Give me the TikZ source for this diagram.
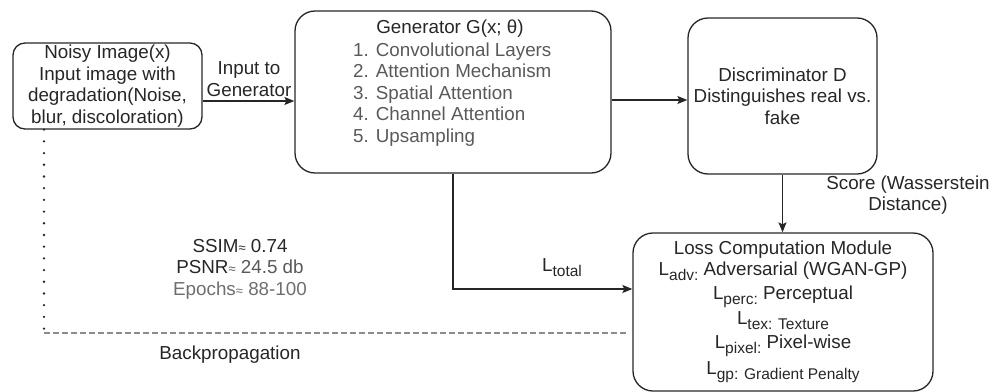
\documentclass[tikz,border=0pt]{standalone}
\usepackage{fontspec}
\setmainfont{Liberation Sans}
\usetikzlibrary{arrows.meta}

\definecolor{ink}{HTML}{262626}
\definecolor{softink}{HTML}{595959}
\definecolor{paleink}{HTML}{6E6E6E}
\definecolor{dashgray}{HTML}{8C8C8C}

% lowered, smaller text used for loss-term indices
\newcommand{\lsub}[1]{\raisebox{-5pt}{\fontsize{15.5}{16}\selectfont #1}}
% small "approximately" sign
\newcommand{\apx}{{\fontsize{13}{13}\selectfont ≈}}
% body font with fixed line pitch
\newcommand{\bodyfont}{\fontsize{18.8}{21.5}\selectfont\lineskiplimit=-50pt\relax}

\begin{document}
\begin{tikzpicture}[
  x=1pt, y=-1pt,
  font=\bodyfont,
  box/.style={draw=ink, line width=1.3pt, rounded corners=20pt, inner sep=0pt, text=ink},
  conn/.style={draw=ink, line width=1.3pt, -{Stealth[length=10pt, width=8pt, inset=2pt]}},
  lbl/.style={text=ink, inner sep=0pt, align=center}
]
\useasboundingbox (0,0) rectangle (992,391);

% --- blocks ---
\node[box, rounded corners=12pt, minimum width=189pt, minimum height=86pt, align=center]
  (noisy) at (107.5,86)
  {Noisy Image(x)\\Input image with\\degradation(Noise,\\blur, discoloration)};

\node[box, minimum width=316pt, minimum height=162pt] (gen) at (453,92) {};
\node[lbl] (gentitle) at (450,29) {Generator G(x; θ)};
\node[lbl, align=left, text=softink, anchor=north west] (genlist) at (353,42.5)
  {1. Convolutional Layers\\
   2. Attention Mechanism\\
   3. Spatial Attention\\
   4. Channel Attention\\
   5. Upsampling};

\node[box, minimum width=189pt, minimum height=156pt, align=center]
  (disc) at (782.5,96)
  {Discriminator D\\Distinguishes real vs.\\fake};

\node[box, minimum width=300pt, minimum height=158pt, align=center]
  (loss) at (783,312)
  {Loss Computation Module\\[-1pt]
   L\lsub{adv:} Adversarial (WGAN-GP)\\[3pt]
   L\lsub{perc:} Perceptual\\[3pt]
   L\lsub{tex: Texture}\\[3pt]
   L\lsub{pixel:} Pixel-wise\\[4.5pt]
   L\lsub{gp: Gradient Penalty}};

% --- connectors ---
\draw[conn] ([yshift=-15pt]noisy.east) coordinate (inA) -- (inA -| gen.west);
\node[lbl] (inlbl) at (249,79) {Input to\\Generator};

\draw[conn] ([yshift=-8pt]gen.east) coordinate (gd) -- (gd -| disc.west);

\draw[conn] (disc.south) -- (disc.south |- loss.north);
\node[lbl] (scorelbl) at (908,195) {Score (Wasserstein\\Distance)};

\draw[conn] (gen.south) |- ([yshift=23pt]loss.west);
\node[lbl] (ltot) at (562,268) {L\lsub{total}};

% --- backpropagation path ---
\coordinate (bpturn) at (44,333);
\coordinate (bpend) at (627,333);
\draw[ink, line width=2.6pt, line cap=round, dash pattern=on 0pt off 11.7pt]
  (noisy.south -| bpturn) -- (bpturn);
\draw[dashgray, line width=1.5pt, dash pattern=on 6pt off 3pt] (bpturn) -- (bpend);
\node[lbl] (bplbl) at (230,355) {Backpropagation};

% --- training metrics ---
\node[lbl] (metrics) at (240,269)
  {SSIM\apx{} 0.74\\
   PSNR{\color{softink}\apx{} 24.5 db}\\
   {\color{paleink}Epochs\apx{} 88-100}};
\end{tikzpicture}
\end{document}
